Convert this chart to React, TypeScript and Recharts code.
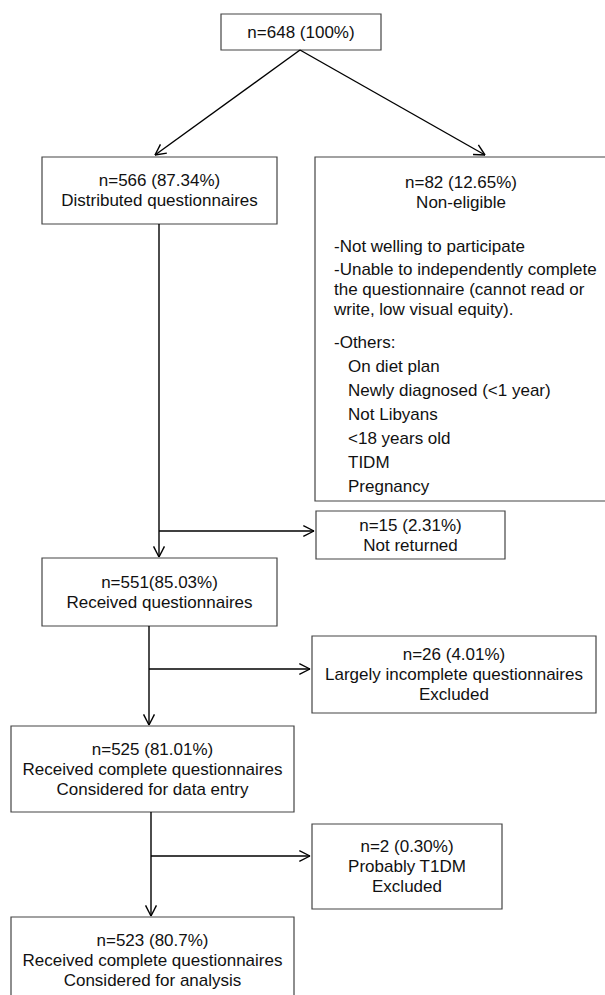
import { ComposedChart, XAxis, YAxis, ReferenceArea, ReferenceLine, Scatter } from 'recharts'

const W = 605
const H = 995
const FONT = 'Liberation Sans, Arial, Helvetica, sans-serif'

// participants at each stage of the flow
const stageCounts = [648, 566, 82, 15, 551, 26, 525, 2, 523]
const stagePercents = ['100', '87.34', '12.65', '2.31', '85.03', '4.01', '81.01', '0.30', '80.7']
// the source prints "n=551(85.03%)" without a space
const stageGaps = [' ', ' ', ' ', ' ', '', ' ', ' ', ' ', ' ']
const stageLabels = [
  [],
  ['Distributed questionnaires'],
  ['Non-eligible'],
  ['Not returned'],
  ['Received questionnaires'],
  ['Largely incomplete questionnaires', 'Excluded'],
  ['Received complete questionnaires', 'Considered for data entry'],
  ['Probably T1DM', 'Excluded'],
  ['Received complete questionnaires', 'Considered for analysis'],
]

// reasons listed inside the non-eligible box
const exclusionReasons = [
  ['-Not welling to participate'],
  ['-Unable to independently complete', 'the questionnaire (cannot read or', 'write, low visual equity).'],
  ['-Others:'],
]
const otherReasons = ['On diet plan', 'Newly diagnosed (<1 year)', 'Not Libyans', '<18 years old', 'TIDM', 'Pregnancy']

// box geometry (page pixels), one per stage
const boxes = [
  { x1: 221, x2: 381, y1: 14, y2: 50 },
  { x1: 42, x2: 277, y1: 157, y2: 224 },
  { x1: 315, x2: 606, y1: 157, y2: 501 },
  { x1: 316, x2: 505, y1: 511, y2: 559 },
  { x1: 42, x2: 277, y1: 558, y2: 626 },
  { x1: 312, x2: 596, y1: 636, y2: 713 },
  { x1: 11, x2: 294, y1: 726, y2: 812 },
  { x1: 312, x2: 502, y1: 824, y2: 909 },
  { x1: 11, x2: 294, y1: 917, y2: 1003 },
]

// connectors: [x1, y1, x2, y2, hasArrow]
const edges: [number, number, number, number, boolean][] = [
  [300, 50, 155, 155, true],
  [300, 50, 485, 155, true],
  [159, 224, 159, 557, true],
  [159, 531, 314, 531, true],
  [149, 626, 149, 725, true],
  [149, 669, 310, 669, true],
  [151, 812, 151, 916, true],
  [151, 856, 310, 856, true],
]

const LINE_H = 20

function buildTextPoints() {
  const pts: { x: number; y: number; text: string; anchor: string }[] = []
  boxes.forEach((b, i) => {
    const lines = [`n=${stageCounts[i]}${stageGaps[i]}(${stagePercents[i]}%)`, ...stageLabels[i]]
    // the non-eligible box runs off the page, so centre on the visible part
    const cx = i === 2 ? (b.x1 + W) / 2 + 1 : (b.x1 + b.x2) / 2
    const mid = i === 2 ? 192 : (b.y1 + b.y2) / 2
    const top = mid - ((lines.length - 1) * LINE_H) / 2
    lines.forEach((t, k) => pts.push({ x: cx, y: top + k * LINE_H, text: t, anchor: 'middle' }))
  })
  // list in the non-eligible box
  const starts = [246, 269, 342]
  exclusionReasons.forEach((grp, g) => {
    grp.forEach((t, k) => pts.push({ x: 334, y: starts[g] + k * LINE_H, text: t, anchor: 'start' }))
  })
  otherReasons.forEach((t, k) => pts.push({ x: 348, y: 366 + k * 24, text: t, anchor: 'start' }))
  return pts
}

const textPoints = buildTextPoints()

function arrowHead(x1: number, y1: number, x2: number, y2: number) {
  const len = 12
  const ang = (27 * Math.PI) / 180
  const a = Math.atan2(y2 - y1, x2 - x1)
  return [a + ang, a - ang].map((t) => [x2, y2, x2 - len * Math.cos(t), y2 - len * Math.sin(t)])
}

const TextMark = (props: any) => {
  const { cx, cy } = props
  const p = props.payload ?? props
  if (cx == null || cy == null) return null
  return (
    <text x={cx} y={cy} dy="0.35em" textAnchor={p.anchor} fontSize={17} fill="#111" fontFamily={FONT}>
      {p.text}
    </text>
  )
}

export default function App() {
  return (
    <div style={{ position: 'absolute', left: 0, top: 0, background: '#fff' }}>
      <ComposedChart width={W} height={H} margin={{ top: 0, right: 0, bottom: 0, left: 0 }}>
        <XAxis type="number" dataKey="x" domain={[0, W]} hide allowDataOverflow />
        <YAxis type="number" dataKey="y" domain={[0, H]} reversed hide allowDataOverflow />
        {edges.map(([x1, y1, x2, y2], i) => (
          <ReferenceLine
            key={`e${i}`}
            segment={[{ x: x1, y: y1 }, { x: x2, y: y2 }]}
            stroke="#000"
            strokeWidth={1.4}
            ifOverflow="visible"
          />
        ))}
        {edges
          .filter((e) => e[4])
          .flatMap(([x1, y1, x2, y2], i) =>
            arrowHead(x1, y1, x2, y2).map(([ax, ay, bx, by], j) => (
              <ReferenceLine
                key={`a${i}-${j}`}
                segment={[{ x: ax, y: ay }, { x: bx, y: by }]}
                stroke="#000"
                strokeWidth={1.4}
                ifOverflow="visible"
              />
            ))
          )}
        {boxes.map((b, i) => (
          <ReferenceArea
            key={`b${i}`}
            x1={b.x1}
            x2={b.x2}
            y1={b.y1}
            y2={b.y2}
            fill="#fff"
            fillOpacity={1}
            stroke="#444"
            strokeWidth={1.2}
            ifOverflow="visible"
          />
        ))}
        <Scatter data={textPoints} shape={<TextMark />} isAnimationActive={false} />
      </ComposedChart>
    </div>
  )
}
